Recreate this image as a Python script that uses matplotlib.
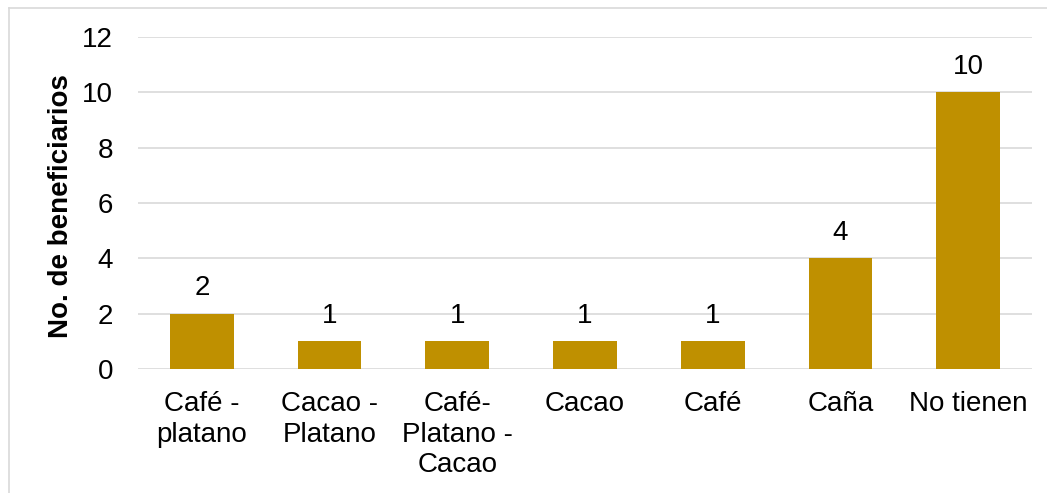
import matplotlib
matplotlib.use("Agg")
import matplotlib.pyplot as plt

categories = ["Café -\nplatano", "Cacao -\nPlatano", "Café-\nPlatano -\nCacao", "Cacao", "Café", "Caña", "No tienen"]
values = [2, 1, 1, 1, 1, 4, 10]
y_ticks = [0, 2, 4, 6, 8, 10, 12]

plt.rcParams['font.family'] = ['Liberation Sans', 'DejaVu Sans']

W, H = 1047, 493
FS = 20
fig = plt.figure(figsize=(W / 100, H / 100), dpi=100)
ax = fig.add_axes([138 / W, 1 - 369 / H, (1032 - 138) / W, (369 - 37) / H])

# chart frame: top and left edges
fig.add_artist(plt.Line2D([9 / W, 1], [1 - 8 / H, 1 - 8 / H], transform=fig.transFigure,
                          color="#D9D9D9", linewidth=1.2))
fig.add_artist(plt.Line2D([9 / W, 9 / W], [0, 1 - 8 / H], transform=fig.transFigure,
                          color="#D9D9D9", linewidth=1.2))

x = range(len(categories))
bars = ax.bar(x, values, width=0.5, color="#BF9000", zorder=3)
for b, v in zip(bars, values):
    ax.annotate(str(v), (b.get_x() + b.get_width() / 2, v), xytext=(0, 9),
                textcoords="offset points", ha="center", va="bottom",
                fontsize=FS, color="black")

ax.set_xlim(-0.5, len(categories) - 0.5)
ax.set_ylim(0, 12)
ax.set_yticks(y_ticks)
ax.set_xticks(list(x))
ax.set_xticklabels(categories, fontsize=FS, linespacing=1.23)
ax.tick_params(axis="y", labelsize=FS, length=0, pad=18)
ax.tick_params(axis="x", length=0, pad=16)
ax.yaxis.grid(True, color="#D9D9D9", linewidth=1.2, zorder=0)
for s in ax.spines.values():
    s.set_visible(False)
ax.set_ylabel("No. de beneficiarios", fontsize=FS, fontweight="bold")
ax.yaxis.set_label_coords((74 - 138) / (1032 - 138), 0.49)

fig.savefig("out.png", dpi=100)
